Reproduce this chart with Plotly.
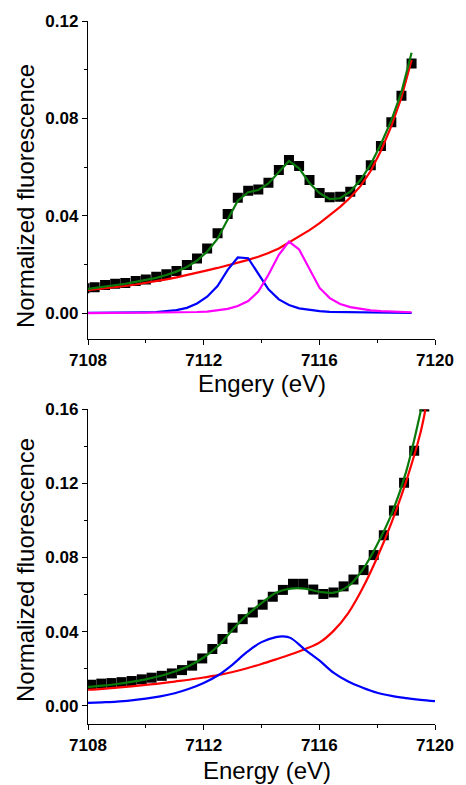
import plotly.graph_objects as go

# ---------------- upper spectrum: data and two-peak fit ----------------
top_energy = [7107.88, 7108.23, 7108.59, 7108.94, 7109.29, 7109.65, 7110.00, 7110.36,
              7110.71, 7111.06, 7111.42, 7111.77, 7112.12, 7112.48, 7112.83, 7113.18,
              7113.54, 7113.89, 7114.24, 7114.60, 7114.95, 7115.30, 7115.66, 7116.01,
              7116.36, 7116.72, 7117.07, 7117.43, 7117.78, 7118.13, 7118.49, 7118.84,
              7119.19]
top_data = [0.0103, 0.0107, 0.0116, 0.0121, 0.0124, 0.0132, 0.0139, 0.0150, 0.0160,
            0.0173, 0.0198, 0.0225, 0.0266, 0.0328, 0.0407, 0.0474, 0.0503, 0.0508,
            0.0536, 0.0588, 0.0629, 0.0605, 0.0547, 0.0494, 0.0476, 0.0478, 0.0499,
            0.0547, 0.0608, 0.0687, 0.0784, 0.0893, 0.1025]
top_baseline = [0.0093, 0.0097, 0.0102, 0.0107, 0.0112, 0.0118, 0.0124, 0.0131, 0.0139,
                0.0147, 0.0156, 0.0166, 0.0176, 0.0186, 0.0196, 0.0207, 0.0219, 0.0232,
                0.0247, 0.0266, 0.0290, 0.0315, 0.0341, 0.0370, 0.0402, 0.0437, 0.0475,
                0.0523, 0.0585, 0.0667, 0.0768, 0.0886, 0.1040]
top_peak1 = [0.0001, 0.0001, 0.0001, 0.0002, 0.0002, 0.0003, 0.0004, 0.0005, 0.0008,
             0.0013, 0.0022, 0.0040, 0.0068, 0.0112, 0.0178, 0.0229, 0.0226, 0.0160,
             0.0098, 0.0057, 0.0034, 0.0020, 0.0013, 0.0009, 0.0006, 0.0005, 0.0004,
             0.0003, 0.0003, 0.0002, 0.0002, 0.0002, 0.0001]
top_peak2 = [0.0000, 0.0001, 0.0001, 0.0001, 0.0001, 0.0002, 0.0002, 0.0002, 0.0003,
             0.0003, 0.0004, 0.0005, 0.0007, 0.0011, 0.0018, 0.0030, 0.0050, 0.0089,
             0.0158, 0.0240, 0.0294, 0.0262, 0.0180, 0.0104, 0.0062, 0.0038, 0.0025,
             0.0017, 0.0012, 0.0009, 0.0007, 0.0005, 0.0004]
top_fit = [0.0098, 0.0103, 0.0109, 0.0115, 0.0121, 0.0129, 0.0136, 0.0145, 0.0157,
           0.0171, 0.0190, 0.0216, 0.0253, 0.0306, 0.0385, 0.0462, 0.0497, 0.0506,
           0.0533, 0.0580, 0.0625, 0.0595, 0.0535, 0.0493, 0.0469, 0.0472, 0.0499,
           0.0548, 0.0612, 0.0695, 0.0792, 0.0908, 0.1070]

# ---------------- lower spectrum: data and one-peak fit ----------------
bot_energy = [7108.11, 7108.46, 7108.81, 7109.16, 7109.51, 7109.86, 7110.20, 7110.55,
              7110.90, 7111.25, 7111.60, 7111.95, 7112.30, 7112.65, 7113.00, 7113.35,
              7113.70, 7114.04, 7114.39, 7114.74, 7115.09, 7115.44, 7115.79, 7116.14,
              7116.49, 7116.84, 7117.18, 7117.53, 7117.88, 7118.23, 7118.58, 7118.93,
              7119.28, 7119.63]
bot_data = [0.0113, 0.0119, 0.0122, 0.0127, 0.0133, 0.0142, 0.0151, 0.0161, 0.0174,
            0.0192, 0.0216, 0.0255, 0.0306, 0.0360, 0.0421, 0.0467, 0.0503, 0.0545,
            0.0588, 0.0625, 0.0658, 0.0658, 0.0627, 0.0603, 0.0611, 0.0644, 0.0681,
            0.0732, 0.0813, 0.0920, 0.1053, 0.1204, 0.1376, 0.1615]

bot_peak_energy = [7108.0, 7108.5, 7109.0, 7109.5, 7110.0, 7110.5, 7111.0, 7111.5,
                   7112.0, 7112.5, 7113.0, 7113.5, 7114.0, 7114.5, 7114.75, 7115.0,
                   7115.5, 7116.0, 7116.5, 7117.0, 7117.5, 7118.0, 7118.5, 7119.0,
                   7119.5, 7120.0]
bot_peak = [0.0015, 0.0018, 0.0022, 0.0029, 0.0038, 0.0050, 0.0067, 0.0091, 0.0122,
            0.0164, 0.0222, 0.0290, 0.0343, 0.0370, 0.0374, 0.0366, 0.0303, 0.0244,
            0.0177, 0.0130, 0.0097, 0.0070, 0.0053, 0.0041, 0.0031, 0.0024]

bot_baseline_energy = [7108.0, 7108.5, 7109.0, 7109.5, 7110.0, 7110.5, 7111.0, 7111.5,
                       7112.0, 7112.5, 7113.0, 7113.5, 7114.0, 7114.5, 7115.0, 7115.5,
                       7116.0, 7116.5, 7117.0, 7117.5, 7118.0, 7118.5, 7119.0, 7119.5,
                       7119.67]
bot_baseline = [0.0086, 0.0091, 0.0097, 0.0104, 0.0112, 0.0120, 0.0130, 0.0140, 0.0152,
                0.0165, 0.0182, 0.0202, 0.0225, 0.0250, 0.0276, 0.0305, 0.0340, 0.0405,
                0.0500, 0.0635, 0.0800, 0.0990, 0.1210, 0.1475, 0.1600]

bot_fit_energy = [7108.0, 7108.5, 7109.0, 7109.5, 7110.0, 7110.5, 7111.0, 7111.5,
                  7112.0, 7112.5, 7113.0, 7113.5, 7114.0, 7114.5, 7115.0, 7115.5,
                  7116.0, 7116.5, 7117.0, 7117.5, 7118.0, 7118.5, 7119.0, 7119.52]
bot_fit = [0.0101, 0.0108, 0.0117, 0.0128, 0.0142, 0.0160, 0.0184, 0.0215, 0.0260,
           0.0322, 0.0410, 0.0490, 0.0553, 0.0610, 0.0632, 0.0632, 0.0615, 0.0610,
           0.0645, 0.0735, 0.0870, 0.1035, 0.1262, 0.1600]

x_ticks = [7108, 7112, 7116, 7120]

GREEN = "#0a7a0a"
RED = "#ff0000"
BLUE = "#0000ff"
MAGENTA = "#ff00ff"
FONT = "Liberation Sans"

fig = go.Figure()


def squares(x, y, xa, ya):
    return go.Scatter(x=x, y=y, mode="markers", xaxis=xa, yaxis=ya,
                      marker=dict(symbol="square", size=10, color="black",
                                  line=dict(width=0)),
                      cliponaxis=True, showlegend=False, hoverinfo="skip")


def curve(x, y, color, xa, ya, shape="linear"):
    return go.Scatter(x=x, y=y, mode="lines", xaxis=xa, yaxis=ya,
                      line=dict(color=color, width=2.2, shape=shape),
                      cliponaxis=True, showlegend=False, hoverinfo="skip")


# upper panel
fig.add_trace(squares(top_energy, top_data, "x", "y"))
fig.add_trace(curve(top_energy, top_baseline, RED, "x", "y"))
fig.add_trace(curve(top_energy, top_peak1, BLUE, "x", "y"))
fig.add_trace(curve(top_energy, top_peak2, MAGENTA, "x", "y"))
fig.add_trace(curve(top_energy, top_fit, GREEN, "x", "y"))

# lower panel
fig.add_trace(squares(bot_energy, bot_data, "x2", "y2"))
fig.add_trace(curve(bot_baseline_energy, bot_baseline, RED, "x2", "y2", "spline"))
fig.add_trace(curve(bot_peak_energy, bot_peak, BLUE, "x2", "y2", "spline"))
fig.add_trace(curve(bot_fit_energy, bot_fit, GREEN, "x2", "y2", "spline"))

tick_font = dict(family=FONT, size=17, color="black", weight="bold")

x_common = dict(range=[7108, 7120], tickmode="array", tickvals=x_ticks,
                ticktext=[str(v) for v in x_ticks],
                showline=True, linecolor="black", linewidth=1.3,
                ticks="outside", ticklen=5, tickwidth=1.3, tickcolor="black",
                minor=dict(ticks="outside", ticklen=3, tickwidth=1.2,
                           tickcolor="black", dtick=2, tick0=7108),
                showgrid=False, zeroline=False, tickfont=tick_font, mirror=False)
y_common = dict(showline=True, linecolor="black", linewidth=1.3,
                ticks="outside", ticklen=5, tickwidth=1.3, tickcolor="black",
                tick0=0, dtick=0.04, tickformat=".2f",
                minor=dict(ticks="outside", ticklen=3, tickwidth=1.2,
                           tickcolor="black", dtick=0.02, tick0=0),
                showgrid=False, zeroline=False, tickfont=tick_font, mirror=False)

W, H = 466, 785
ML, MR, MT, MB = 88, 20, 21, 61
plot_h = H - MT - MB


def py_to_paper(py):
    return (H - MB - py) / plot_h


def px_to_paper(px):
    return (px - ML) / (W - ML - MR)


fig.update_layout(
    width=W, height=H,
    margin=dict(l=ML, r=MR, t=MT, b=MB),
    paper_bgcolor="white", plot_bgcolor="white",
    showlegend=False,
    xaxis=dict(**x_common, domain=[0, 1], anchor="y"),
    yaxis=dict(**y_common, range=[-0.0107, 0.12],
               domain=[py_to_paper(339.3), 1.0], anchor="x"),
    xaxis2=dict(**x_common, domain=[0, 1], anchor="y2"),
    yaxis2=dict(**y_common, range=[-0.0099, 0.16],
                domain=[0.0, py_to_paper(409.3)], anchor="x2"),
)

title_font = dict(family=FONT, size=24, color="black")
annotations = [
    dict(text="Normalized fluorescence", textangle=-90,
         x=px_to_paper(23), y=py_to_paper(196)),
    dict(text="Normalized fluorescence", textangle=-90,
         x=px_to_paper(23), y=py_to_paper(570)),
    dict(text="Engery (eV)", x=px_to_paper(267), y=py_to_paper(383)),
    dict(text="Energy (eV)", x=px_to_paper(273), y=py_to_paper(770)),
]
for a in annotations:
    fig.add_annotation(xref="paper", yref="paper", showarrow=False,
                       xanchor="center", yanchor="middle", font=title_font, **a)

fig.write_html("out.html")
